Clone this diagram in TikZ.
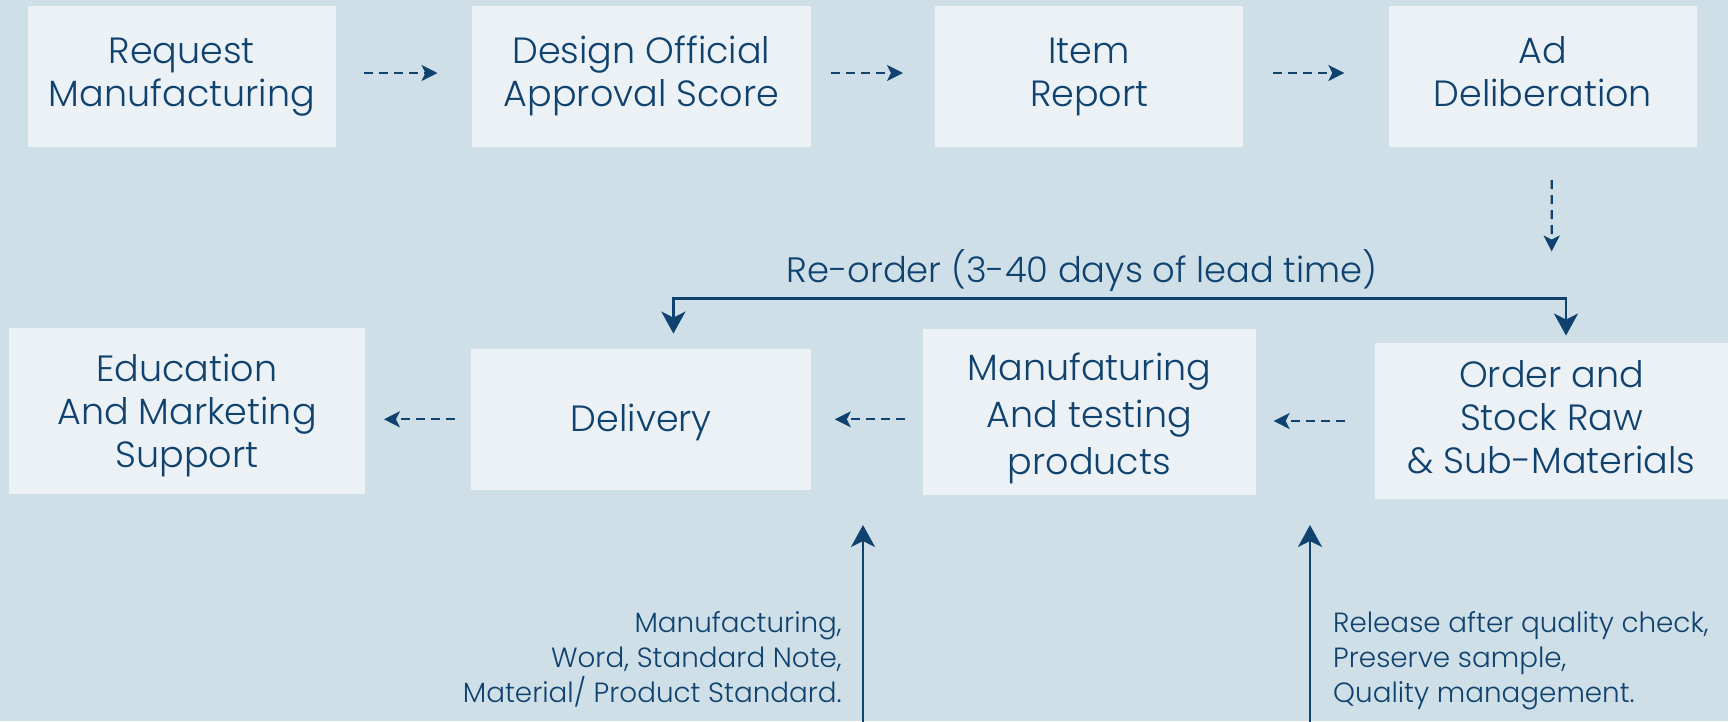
\documentclass[tikz,border=0pt]{standalone}
\usepackage{fontspec}
\IfFontExistsTF{Poppins Light}{\setmainfont{Poppins Light}}{\setmainfont{Poppins}}
\usetikzlibrary{arrows.meta}
\definecolor{bgc}{HTML}{CFDFE7}
\definecolor{boxc}{HTML}{EBF1F5}
\definecolor{navy}{HTML}{10426F}
\newcommand\tS[1]{\rule{0pt}{#1}}
\newcommand\bS{\rule[-12pt]{0pt}{12pt}}
\tikzset{
  stepbox/.style={fill=boxc, inner sep=0pt, align=center, text=navy, font=\fontsize{36.5}{43}\selectfont},
  dasharrow/.style={draw=navy, line width=2.2pt, dash pattern=on 9pt off 6pt, -{Stealth[length=16pt,width=16pt,inset=4pt]}},
  solidarrow/.style={draw=navy, line width=2.7pt, -{Stealth[length=22pt,width=24pt,inset=6pt]}},
  bothsolid/.style={draw=navy, line width=2.7pt, {Stealth[length=22pt,width=24pt,inset=6pt]}-{Stealth[length=22pt,width=24pt,inset=6pt]}},
  note/.style={text=navy, inner sep=0pt, font=\fontsize{27.8}{35}\selectfont},
}
\begin{document}
\begin{tikzpicture}[x=1pt,y=-1pt]
\useasboundingbox (0,0) rectangle (1728,721);
\fill[bgc] (0,0) rectangle (1728,721);

\node[stepbox, minimum width=308.5pt, minimum height=141pt] (req) at (181.9,76) {\tS{29pt}Request\\Manufacturing\bS};
\node[stepbox, minimum width=339.4pt, minimum height=141pt] (des) at (641.4,76) {\tS{29pt}Design Official\\Approval Score\bS};
\node[stepbox, minimum width=308pt, minimum height=141pt] (itm) at (1089.2,76) {\tS{29pt}Item\\Report\bS};
\node[stepbox, minimum width=308.5pt, minimum height=141pt] (ad) at (1542.8,76) {\tS{29pt}Ad\\Deliberation\bS};

\node[stepbox, minimum width=356pt, minimum height=166pt] (edu) at (187,411.3) {\tS{37.6pt}Education\\And Marketing\\Support\bS};
\node[stepbox, minimum width=340pt, minimum height=141pt] (dlv) at (641.4,419.3) {\tS{37pt}Delivery\bS};
\node[stepbox, font=\fontsize{36.5}{47}\selectfont, minimum width=333pt, minimum height=166pt] (mft) at (1089.4,412) {\tS{43pt}Manufaturing\\And testing\\products\bS};
\node[stepbox, minimum width=353pt, minimum height=156.5pt] (ord) at (1551.5,421) {\tS{31.6pt}Order and\\Stock Raw\\\& Sub-Materials\bS};

% top row dashed arrows
\draw[dasharrow, shorten <=28pt, shorten >=34pt] ([yshift=3pt]req.east) -- ([yshift=3pt]des.west);
\draw[dasharrow, shorten <=20pt, shorten >=32pt] ([yshift=3pt]des.east) -- ([yshift=3pt]itm.west);
\draw[dasharrow, shorten <=29.7pt, shorten >=44pt] ([yshift=3pt]itm.east) -- ([yshift=3pt]ad.west);
\draw[dasharrow, shorten <=33.4pt, shorten >=91pt] ([xshift=9pt]ad.south) -- (ord.north);

% bottom row dashed arrows
\draw[dasharrow, shorten <=30pt, shorten >=17.5pt] (ord.west) -- (ord.west -| mft.east);
\draw[dasharrow, shorten <=17.7pt, shorten >=23.2pt] (dlv.east -| mft.west) -- (dlv.east);
\draw[dasharrow, shorten <=16.7pt, shorten >=18.7pt] (dlv.west) -- (dlv.west -| edu.east);

% re-order loop
\draw[bothsolid] ([xshift=32pt,yshift=15pt]dlv.north) |- (1100,298.6) -| ([xshift=14.5pt,yshift=7pt]ord.north);
\node[text=navy, inner sep=0pt, font=\fontsize{35.3}{40}\selectfont, anchor=base] (reo) at (1082,282) {Re-order (3-40 days of lead time)};

% upward arrows
\coordinate (b1) at (863,725);
\coordinate (t1) at (863,525);
\coordinate (b2) at (1310,725);
\coordinate (t2) at (1310,525);
\draw[solidarrow] (b1) -- (t1);
\draw[solidarrow] (b2) -- (t2);

\node[note, align=right, anchor=north east] (n1) at (842,611) {Manufacturing,\\Word, Standard Note,\\Material/ Product Standard.};
\node[note, align=left, anchor=north west] (n2) at (1333,611) {Release after quality check,\\Preserve sample,\\Quality management.};
\end{tikzpicture}
\end{document}
